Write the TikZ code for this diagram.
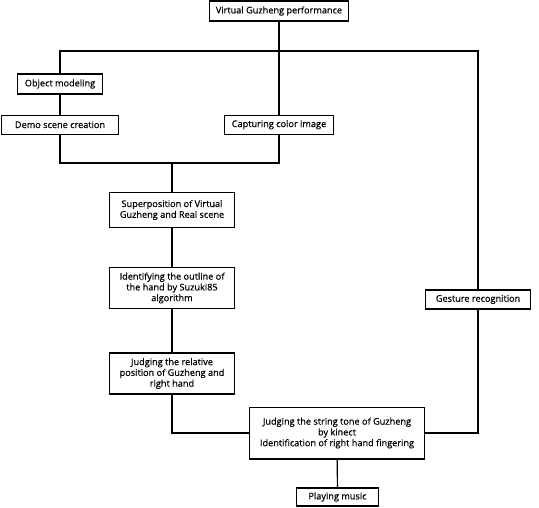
\documentclass[tikz,border=0pt]{standalone}
\usepackage{fontspec}
\setmainfont{Open Sans}[FakeBold=0.5]
\tikzset{
  stepbox/.style={draw, line width=1.2pt, align=center, inner sep=1pt, font=\fontsize{9.2}{10.8}\selectfont},
  link/.style={line width=1.2pt}
}
\begin{document}
\begin{tikzpicture}[x=1bp, y=-1bp, line join=miter]
				\useasboundingbox (0,0) rectangle (539,508);
				% boxes
				\node[stepbox, minimum width=140, minimum height=20] (perf) at (279,11) {Virtual Guzheng performance};
				\node[stepbox, minimum width=85, minimum height=20] (model) at (60,84) {Object modeling};
				\node[stepbox, minimum width=117, minimum height=19] (demo) at (60,124.7) {Demo scene creation};
				\node[stepbox, minimum width=110, minimum height=19] (capture) at (279,124.7) {Capturing color image};
				\node[stepbox, minimum width=125, minimum height=35] (superpos) at (172,210) {Superposition of Virtual\\Guzheng and Real scene};
				\node[stepbox, minimum width=125, minimum height=41] (outline) at (172,288) {Identifying the outline of\\the hand by Suzuki85\\algorithm};
				\node[stepbox, minimum width=125, minimum height=41] (relpos) at (172,373.5) {Judging the relative\\position of Guzheng and\\right hand};
				\node[stepbox, minimum width=105, minimum height=19] (gesture) at (478,299.5) {Gesture recognition};
				\node[stepbox, minimum width=176, minimum height=52] (tone) at (337,433) {Judging the string tone of Guzheng\\by kinect\\Identification of right hand fingering};
				\node[stepbox, minimum width=83, minimum height=18] (music) at (337.5,497) {Playing music};
				% joints
				\coordinate (split) at (279,51);
				\coordinate (merge) at (172,163);
				% links
				\draw[link] (perf) -- (capture);
				\draw[link] (model.north) |- (split) -| (gesture.north);
				\draw[link] (model) -- (demo);
				\draw[link] (demo.south) |- (merge) -| (capture.south);
				\draw[link] (merge) -- (superpos);
				\draw[link] (superpos) -- (outline);
				\draw[link] (outline) -- (relpos);
				\draw[link] (relpos.south) |- (tone.west);
				\draw[link] (gesture.south) |- (tone.east);
				\draw[link] (tone) -- (music);
			\end{tikzpicture}
\end{document}
